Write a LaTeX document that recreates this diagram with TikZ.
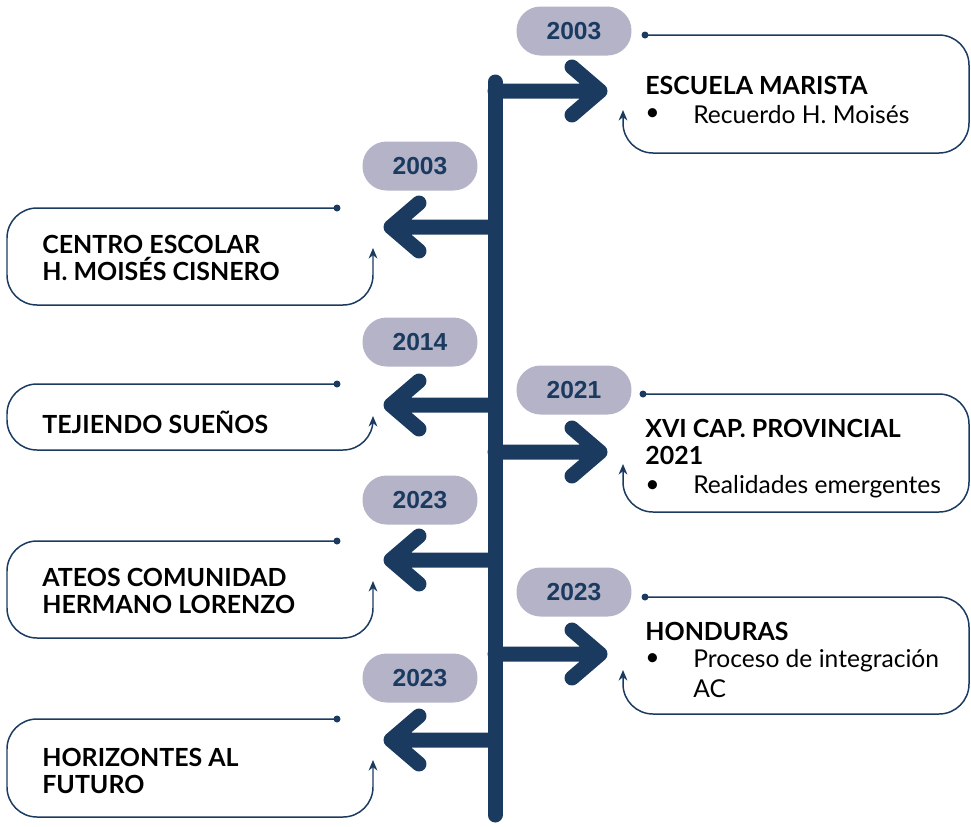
\documentclass[tikz,border=0pt]{standalone}
\usepackage{fontspec}
\setmainfont{Lato}
\newfontfamily\yearfont{Liberation Sans}
\usetikzlibrary{arrows.meta}

\definecolor{navy}{HTML}{1B3A60}
\definecolor{pill}{HTML}{B4B3C8}

\begin{document}
\begin{tikzpicture}[x=0.02cm, y=-0.02cm,
  year/.style={rectangle, fill=pill, rounded corners=0.48cm, minimum width=2.3cm,
    minimum height=0.98cm, inner sep=0pt, text=navy,
    font=\yearfont\bfseries\fontsize{14}{16}\selectfont},
  title/.style={anchor=west, align=left, inner sep=0pt,
    font=\bfseries\fontsize{14.2}{15.6}\selectfont},
  item/.style={anchor=west, align=left, inner sep=0pt,
    font=\fontsize{14}{17}\selectfont},
  dot/.style={circle, fill=navy, inner sep=0pt, minimum size=0.14cm},
  frame/.style={navy, line width=0.85pt, rounded corners=0.6cm,
    -{Stealth[length=6pt,width=5pt]}},
  branch/.style={navy, line width=0.3cm, line cap=round, line join=round}
]
\useasboundingbox (0,0) rectangle (971,826);

% spine
\coordinate (top) at (495,82);
\coordinate (bot) at (495,815);
\draw[branch] (top) -- (bot);

% branches to the right
\foreach \y/\n in {91/r1, 452/r2, 654/r3} {
  \coordinate (\n) at (495,\y);
  \coordinate (\n tip) at (600,\y);
  \draw[branch] (\n) -- (\n tip) ++(-28,-24) -- (\n tip) -- ++(-28,24);
}
% branches to the left
\foreach \y/\n in {227/l1, 405/l2, 560/l3, 740/l4} {
  \coordinate (\n) at (495,\y);
  \coordinate (\n tip) at (391,\y);
  \draw[branch] (\n) -- (\n tip) ++(28,-24) -- (\n tip) -- ++(28,24);
}

% years
\node[year] (y1) at (574,31) {2003};
\node[year] (y2) at (420,166) {2003};
\node[year] (y3) at (420,342) {2014};
\node[year] (y4) at (574,390) {2021};
\node[year] (y5) at (420,500) {2023};
\node[year] (y6) at (574,592) {2023};
\node[year] (y7) at (420,678) {2023};

% frames, right side
\node[dot] (d1) at (645,35) {};
\draw[frame] (d1.center) -- (969,35) -- (969,153) -- (623,153) -- (623,110);
\node[dot] (d4) at (643,394) {};
\draw[frame] (d4.center) -- (969,394) -- (969,512) -- (623,512) -- (623,464);
\node[dot] (d6) at (645,597) {};
\draw[frame] (d6.center) -- (969,597) -- (969,714) -- (623,714) -- (623,670);

% frames, left side
\node[dot] (d2) at (337,208) {};
\draw[frame] (d2.center) -- (7,208) -- (7,305) -- (373,305) -- (373,248);
\node[dot] (d3) at (337,384) {};
\draw[frame] (d3.center) -- (7,384) -- (7,450) -- (373,450) -- (373,416);
\node[dot] (d5) at (337,541) {};
\draw[frame] (d5.center) -- (7,541) -- (7,638) -- (373,638) -- (373,581);
\node[dot] (d7) at (337,719) {};
\draw[frame] (d7.center) -- (7,719) -- (7,817) -- (373,817) -- (373,760);

% texts
\node[title] (escuela) at (645,85) {ESCUELA MARISTA};
\node[item] (b1) at (645,115) {•};
\node[item] (recuerdo) at (693,115) {Recuerdo H. Moisés};

\node[title] (centro) at (42,258) {CENTRO ESCOLAR\\H. MOISÉS CISNERO};
\node[title] (tejiendo) at (42,422) {TEJIENDO SUEÑOS};

\node[title] (capitulo) at (645,442) {XVI CAP. PROVINCIAL\\2021};
\node[item] (b4) at (645,487) {•};
\node[item] (realidades) at (693,487) {Realidades emergentes};

\node[title] (ateos) at (42,591) {ATEOS COMUNIDAD\\HERMANO LORENZO};

\node[title] (honduras) at (645,631) {HONDURAS};
\node[item] (b6) at (645,660) {•};
\node[item, anchor=north west] (proceso) at (693,649) {Proceso de integración\\AC};

\node[title] (horizontes) at (42,771) {HORIZONTES AL\\FUTURO};
\end{tikzpicture}
\end{document}
